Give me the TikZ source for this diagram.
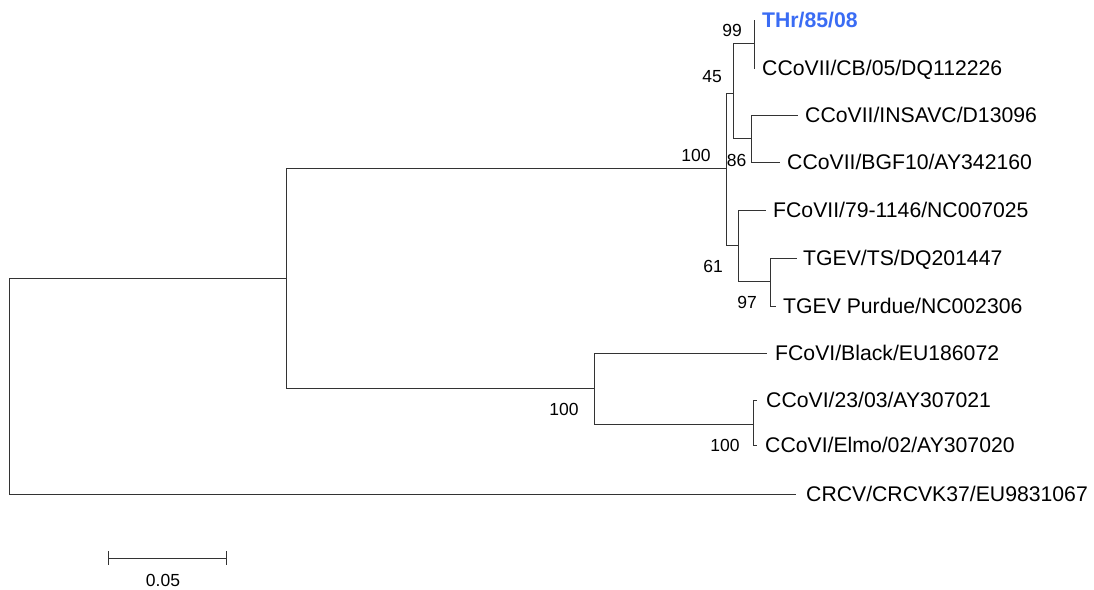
\documentclass[tikz,border=0pt]{standalone}
\usepackage{fontspec}
\setmainfont{Liberation Sans}
\definecolor{thrblue}{RGB}{58,108,244}
\begin{document}
\begin{tikzpicture}[x=1pt,y=-1pt,
  br/.style={draw=black!80, line width=0.9pt},
  leaf/.style={anchor=base west, inner sep=0pt, font=\fontsize{21.2}{24}\selectfont, yshift=-7.6pt},
  boot/.style={inner sep=0pt, font=\fontsize{17.5}{20}\selectfont},
]
\useasboundingbox (0,0) rectangle (1094,589);
% internal nodes
\coordinate (R) at (9,386);
\coordinate (A) at (286,278);
\coordinate (B) at (726,168);
\coordinate (C) at (594,388);
\coordinate (D) at (733,93);
\coordinate (E) at (738,245);
\coordinate (F) at (754,43);
\coordinate (G) at (751,138);
\coordinate (H) at (770,281);
\coordinate (I) at (753,424);
% tips
\coordinate (tTHr) at (754,20);
\coordinate (tCB) at (755,68);
\coordinate (tINS) at (798,115);
\coordinate (tBGF) at (780,162);
\coordinate (tFCo) at (766,210);
\coordinate (tTS) at (797,258);
\coordinate (tPur) at (776,306);
\coordinate (tBlk) at (767,353);
\coordinate (t23) at (757,400);
\coordinate (tElmo) at (757,445);
\coordinate (tCRCV) at (796,494);
% branches
\draw[br] (R) |- (A);
\draw[br] (R) |- (tCRCV);
\draw[br] (A) |- (B);
\draw[br] (A) |- (C);
\draw[br] (B) |- (D);
\draw[br] (B) |- (E);
\draw[br] (D) |- (F);
\draw[br] (D) |- (G);
\draw[br] (F) |- (tTHr);
\draw[br] (F) |- (tCB);
\draw[br] (G) |- (tINS);
\draw[br] (G) |- (tBGF);
\draw[br] (E) |- (tFCo);
\draw[br] (E) |- (H);
\draw[br] (H) |- (tTS);
\draw[br] (H) |- (tPur);
\draw[br] (C) |- (tBlk);
\draw[br] (C) |- (I);
\draw[br] (I) |- (t23);
\draw[br] (I) |- (tElmo);
% leaf labels
\node[leaf, text=thrblue, font=\fontsize{21.2}{24}\selectfont\bfseries] (lTHr) at ([xshift=8pt]tTHr) {THr/85/08};
\node[leaf] (lCB) at ([xshift=7pt]tCB) {CCoVII/CB/05/DQ112226};
\node[leaf] (lINS) at ([xshift=7pt]tINS) {CCoVII/INSAVC/D13096};
\node[leaf] (lBGF) at ([xshift=7pt]tBGF) {CCoVII/BGF10/AY342160};
\node[leaf] (lFCo) at ([xshift=7pt]tFCo) {FCoVII/79-1146/NC007025};
\node[leaf] (lTS) at ([xshift=6pt]tTS) {TGEV/TS/DQ201447};
\node[leaf] (lPur) at ([xshift=7pt]tPur) {TGEV Purdue/NC002306};
\node[leaf] (lBlk) at ([xshift=8pt]tBlk) {FCoVI/Black/EU186072};
\node[leaf] (l23) at ([xshift=9pt]t23) {CCoVI/23/03/AY307021};
\node[leaf] (lElmo) at ([xshift=8pt]tElmo) {CCoVI/Elmo/02/AY307020};
\node[leaf] (lCRCV) at ([xshift=10pt]tCRCV) {CRCV/CRCVK37/EU9831067};
% bootstrap values
\node[boot] (b99) at (732,30) {99};
\node[boot] (b45) at (712,77) {45};
\node[boot] (b100a) at (696,155) {100};
\node[boot] (b86) at (736.5,160) {86};
\node[boot] (b61) at (713,266) {61};
\node[boot] (b97) at (747,302) {97};
\node[boot] (b100b) at (564,409) {100};
\node[boot] (b100c) at (725,445) {100};
% scale bar
\coordinate (sbL) at (108,558);
\coordinate (sbR) at (226,558);
\draw[br] (sbL) -- (sbR);
\draw[br] ([yshift=7pt]sbL) -- ([yshift=-7pt]sbL);
\draw[br] ([yshift=7pt]sbR) -- ([yshift=-7pt]sbR);
\node[boot] (sbT) at (163,580) {0.05};
\end{tikzpicture}
\end{document}
